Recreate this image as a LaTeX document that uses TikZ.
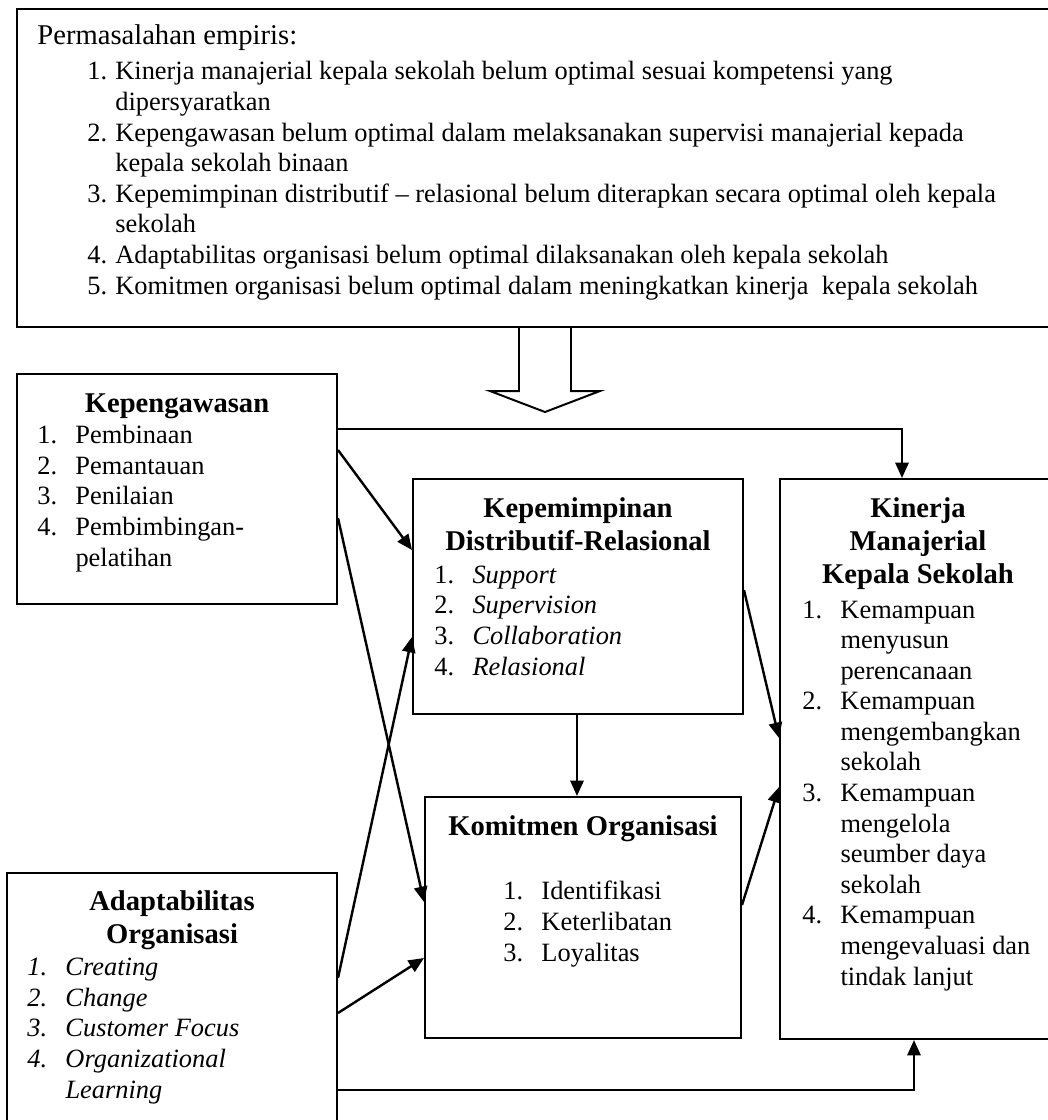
\documentclass[tikz,border=0pt]{standalone}
\usepackage{fontspec}
\setmainfont{Liberation Serif}
\usetikzlibrary{arrows.meta,fit}

\newcommand\nm[1]{\makebox[17.3pt][l]{#1}}
\newcommand\ind{\hspace*{17.3pt}}
\newcommand\pn[1]{\makebox[12.7pt][l]{#1}}
\newcommand\pind{\hspace*{12.7pt}}

% base anchor of a multi-line node = baseline of its last line
\tikzset{
  box/.style={draw,line width=0.9pt,inner sep=0pt},
  ttl/.style={font=\fontsize{13}{15}\selectfont\bfseries,align=center,anchor=base,inner sep=0pt},
  lst/.style={font=\fontsize{12}{13.9}\selectfont,align=left,anchor=base west,inner sep=0pt},
  arr/.style={line width=1.1pt,-{Triangle[length=7pt,width=6pt]}}
}

\begin{document}
\begin{tikzpicture}[x=0.4545pt,y=-0.4545pt]
\clip (0,0) rectangle (1048,1120);
% boxes
\node[box,fit={(17,9) (1060,327)}] (prob) {};
\node[box,fit={(17,374) (337,604)}] (kepw) {};
\node[box,fit={(413,479) (743,714)}] (kepm) {};
\node[box,fit={(780,479) (1060,1039)}] (kin) {};
\node[box,fit={(425,797) (741,1038)}] (kom) {};
\node[box,fit={(7,873) (337,1130)}] (adp) {};
% big arrow
\draw[line width=0.9pt] (519,327) -- (519,391) -- (490,391) -- (545,412) -- (600,391) -- (571,391) -- (571,327);
% texts
\node[lst,font=\fontsize{13}{15}\selectfont] (prob-t) at (37,44) {Permasalahan empiris:};
\node[lst] (prob-l) at (87,294) {\pn{1.}Kinerja manajerial kepala sekolah belum optimal sesuai kompetensi yang\\
  \pind dipersyaratkan\\
  \pn{2.}Kepengawasan belum optimal dalam melaksanakan supervisi manajerial kepada\\
  \pind kepala sekolah binaan\\
  \pn{3.}Kepemimpinan distributif -- relasional belum diterapkan secara optimal oleh kepala\\
  \pind sekolah\\
  \pn{4.}Adaptabilitas organisasi belum optimal dilaksanakan oleh kepala sekolah\\
  \pn{5.}Komitmen organisasi belum optimal dalam meningkatkan kinerja\ \ kepala sekolah};
\node[ttl] (kepw-t) at (177,412) {Kepengawasan};
\node[lst] (kepw-l) at (37,566) {\nm{1.}Pembinaan\\ \nm{2.}Pemantauan\\ \nm{3.}Penilaian\\
  \nm{4.}Pembimbingan-\\ \ind pelatihan};
\node[ttl] (kepm-t) at (578,550) {Kepemimpinan\\ Distributif-Relasional};
\node[lst] (kepm-l) at (434,675) {\nm{1.}\textit{Support}\\ \nm{2.}\textit{Supervision}\\
  \nm{3.}\textit{Collaboration}\\ \nm{4.}\textit{Relasional}};
\node[ttl] (kin-t) at (918,583) {Kinerja\\ Manajerial\\ Kepala Sekolah};
\node[lst] (kin-l) at (802,985) {\nm{1.}Kemampuan\\ \ind menyusun\\ \ind perencanaan\\
  \nm{2.}Kemampuan\\ \ind mengembangkan\\ \ind sekolah\\
  \nm{3.}Kemampuan\\ \ind mengelola\\ \ind seumber daya\\ \ind sekolah\\
  \nm{4.}Kemampuan\\ \ind mengevaluasi dan\\ \ind tindak lanjut};
\node[ttl] (kom-t) at (583,835) {Komitmen Organisasi};
\node[lst] (kom-l) at (503,961) {\nm{1.}Identifikasi\\ \nm{2.}Keterlibatan\\ \nm{3.}Loyalitas};
\node[ttl] (adp-t) at (172,943) {Adaptabilitas\\ Organisasi};
\node[lst,font=\fontsize{12}{13.9}\selectfont\itshape] (adp-l) at (27,1098) {\nm{1.}Creating\\ \nm{2.}Change\\
  \nm{3.}Customer Focus\\ \nm{4.}Organizational\\ \ind Learning};
% connectors
\draw[arr] (kepw.east |- 0,429) -| (kin.north -| 902,0);
\draw[arr] (kepw.east |- 0,450) -- (kepm.west |- 0,550);
\draw[arr] (kepw.east |- 0,518) -- (kom.west |- 0,902);
\draw[arr] (adp.east |- 0,978) -- (kepm.west |- 0,637);
\draw[arr] (adp.east |- 0,1013) -- (kom.west |- 0,958);
\draw[arr] (adp.east |- 0,1090) -| (kin.south -| 914,0);
\draw[arr] (kepm.east |- 0,590) -- (kin.west |- 0,738);
\draw[arr] (kepm.south -| 577,0) -- (kom.north -| 577,0);
\draw[arr] (kom.east |- 0,905) -- (kin.west |- 0,787);
\end{tikzpicture}
\end{document}
